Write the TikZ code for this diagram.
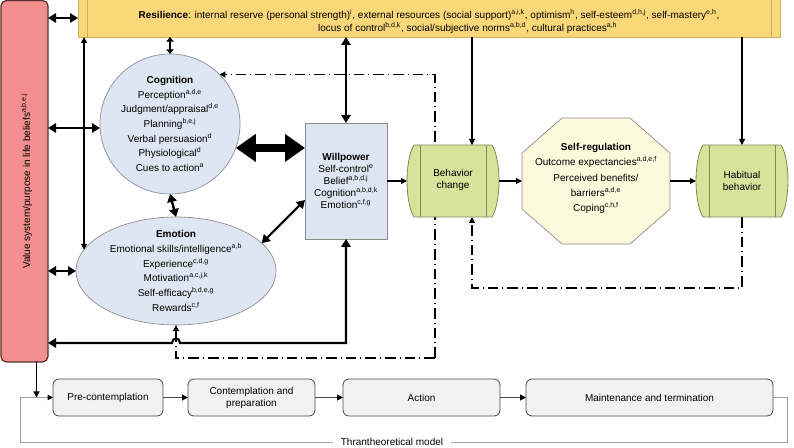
\documentclass[tikz,border=0pt]{standalone}
\usepackage{fontspec}
\setmainfont{Liberation Sans}
\usetikzlibrary{arrows.meta,calc,shapes.geometric}
\definecolor{valfill}{RGB}{243,143,143}
\definecolor{valdraw}{RGB}{90,45,45}
\definecolor{resfill}{RGB}{250,216,122}
\definecolor{resdraw}{RGB}{205,175,95}
\definecolor{blfill}{RGB}{221,230,242}
\definecolor{bldraw}{RGB}{140,140,140}
\definecolor{grfill}{RGB}{215,226,155}
\definecolor{grdraw}{RGB}{125,140,85}
\definecolor{srfill}{RGB}{253,249,221}
\definecolor{stfill}{RGB}{242,242,242}
\definecolor{stdraw}{RGB}{70,70,70}
\definecolor{loopgray}{RGB}{160,160,160}
\newcommand\sups[1]{\textsuperscript{#1}}
\newcommand\barrelpath[1]{%
  \path[draw=grdraw,fill=grfill,line width=0.6pt]
    ($(#1.north west)+(7,0)$) -- ($(#1.north east)+(-7,0)$)
    .. controls ($(#1.north east)+(2.3,15)$) and ($(#1.south east)+(2.3,-15)$) .. ($(#1.south east)+(-7,0)$)
    -- ($(#1.south west)+(7,0)$)
    .. controls ($(#1.south west)+(-2.3,-15)$) and ($(#1.north west)+(-2.3,15)$) .. cycle;
  \draw[grdraw,line width=0.6pt] ($(#1.north west)+(13,0)$) -- ($(#1.south west)+(13,0)$)
    ($(#1.north east)+(-13,0)$) -- ($(#1.south east)+(-13,0)$);}
\tikzset{
  smalltip/.tip={Triangle[length=4.5pt,width=4.5pt]},
  shorttip/.tip={Triangle[length=3.5pt,width=5.5pt]},
  midtip/.tip={Triangle[length=6pt,width=7pt]},
  bigtip/.tip={Triangle[length=15pt,width=20pt]},
  graytip/.tip={Triangle[length=4pt,width=4pt,color=black]},
}
\begin{document}
\begin{tikzpicture}[x=0.75pt,y=-0.75pt,
  font=\fontsize{7.5pt}{9pt}\selectfont,
  every node/.style={inner sep=0pt,outer sep=0pt},
  txt/.style={align=center},
  valbox/.style={draw=valdraw,fill=valfill,line width=0.9pt,rounded corners=4pt,minimum width=35.25pt,minimum height=271.1pt},
  resbox/.style={draw=resdraw,fill=resfill,line width=0.6pt,minimum width=526.5pt,minimum height=28.5pt},
  cogshape/.style={circle,draw=bldraw,fill=blfill,line width=0.5pt,minimum size=105pt},
  emoshape/.style={ellipse,draw=bldraw,fill=blfill,line width=0.5pt,minimum width=150pt,minimum height=81pt},
  wilshape/.style={rectangle,draw=bldraw,fill=blfill,line width=0.6pt,minimum width=61.5pt,minimum height=87pt},
  anchorbox/.style={rectangle,minimum width=69pt,minimum height=54pt},
  stage/.style={rectangle,rounded corners=4.5pt,draw=stdraw,fill=stfill,line width=0.6pt,minimum height=27.75pt,align=center},
  arrS/.style={line width=0.8pt,-smalltip},
  dblS/.style={line width=0.9pt,smalltip-smalltip},
  dblM/.style={line width=1.6pt,midtip-midtip},
  dblB/.style={line width=6pt,bigtip-bigtip},
  dashd/.style={line width=0.9pt,dash pattern=on 8pt off 3pt on 0.75pt off 3pt},
  stagearr/.style={draw=stdraw,line width=0.8pt,-{Triangle[length=4.5pt,width=4.5pt,color=black]}},
  loopline/.style={draw=loopgray,line width=0.6pt},
]
\useasboundingbox (0,0) rectangle (794,448);

% main nodes
\node[valbox] (val) at (24.5,181.25) {};
\node[rotate=90] (valt) at (26.5,181) {Value system/purpose in life beliefs\sups{a,b,e,j}};
\node[resbox] (res) at (429,18) {};
\draw[resdraw,line width=0.6pt] ($(res.north west)+(9,0)$) -- ($(res.south west)+(9,0)$)
  ($(res.north east)+(-9,0)$) -- ($(res.south east)+(-9,0)$);
\node[txt,font=\fontsize{7.5pt}{9.75pt}\selectfont] (rest) at (429,21.5)
  {\textbf{Resilience}: internal reserve (personal strength)\sups{i}, external resources (social support)\sups{a,i,k}, optimism\sups{h}, self-esteem\sups{d,h,j}, self-mastery\sups{e,h},\\
   \hspace*{58pt}locus of control\sups{b,d,k}, social/subjective norms\sups{a,b,d}, cultural practices\sups{a,h}};
\node[cogshape] (cog) at (170,124) {};
\node[txt,font=\fontsize{7.5pt}{11pt}\selectfont] (cogt) at (cog) {\textbf{Cognition}\\Perception\sups{a,d,e}\\Judgment/appraisal\sups{d,e}\\Planning\sups{b,e,j}\\Verbal persuasion\sups{d}\\Physiological\sups{d}\\Cues to action\sups{a}};
\node[emoshape] (emo) at (176,271) {};
\node[txt,font=\fontsize{7.5pt}{11pt}\selectfont] (emot) at (emo) {\textbf{Emotion}\\Emotional skills/intelligence\sups{a,b}\\Experience\sups{c,d,g}\\Motivation\sups{a,c,j,k}\\Self-efficacy\sups{b,d,e,g}\\Rewards\sups{c,f}};
\node[wilshape] (wil) at (346,181) {};
\node[txt,font=\fontsize{7.5pt}{9pt}\selectfont] (wilt) at (wil) {\textbf{Willpower}\\Self-control\sups{e}\\Belief\sups{a,b,d,j}\\Cognition\sups{a,b,d,k}\\Emotion\sups{c,f,g}};
\node[anchorbox] (bc) at (453,181) {};
\node[anchorbox] (hb) at (742,181) {};
\node[rectangle,minimum width=111pt,minimum height=94.5pt] (sr) at (596,181) {};

% stages
\node[stage,minimum width=82.5pt] (pc) at (108,397.5) {Pre-contemplation};
\node[stage,minimum width=95.25pt] (cp) at (251.5,397.5) {Contemplation and\\preparation};
\node[stage,minimum width=117.75pt] (act) at (421.5,397.5) {Action};
\node[stage,minimum width=185.25pt] (mt) at (649.5,397.5) {Maintenance and termination};

% dash-dot feedback lines
\coordinate (dcorner) at (435,358);
\coordinate (drow) at (0,288);
\coordinate (bcx) at ($(bc.south)+(19,0)$);
\coordinate (bctop) at ($(bc.north)+(19,0)$);
\draw[dashd,-smalltip] (dcorner) -- (dcorner |- cog.45) -- (cog.45);
\draw[dashd,-smalltip] (dcorner) -- (dcorner -| emo.south) -- (emo.south);
\draw[dashd,-smalltip] (hb.south) -- (hb.south |- drow) -- (bcx |- drow) -- (bcx);

% barrel shapes and octagon
\barrelpath{bc}
\barrelpath{hb}
\node[txt,font=\fontsize{7.5pt}{9pt}\selectfont] (bct) at (453,180) {Behavior\\change};
\node[txt,font=\fontsize{7.5pt}{9pt}\selectfont] (hbt) at (742,181) {Habitual\\behavior};
\path[draw=bldraw,fill=srfill,line width=0.5pt]
  ($(sr.north west)+(40,0)$) -- ($(sr.north east)+(-40,0)$) -- ($(sr.north east)+(0,35)$)
  -- ($(sr.south east)+(0,-35)$) -- ($(sr.south east)+(-40,0)$) -- ($(sr.south west)+(40,0)$)
  -- ($(sr.south west)+(0,-35)$) -- ($(sr.north west)+(0,35)$) -- cycle;
\node[txt,font=\fontsize{7.5pt}{11.4pt}\selectfont] (srt) at (596,178.5) {\textbf{Self-regulation}\\Outcome expectancies\sups{a,d,e,f}\\Perceived benefits/\\barriers\sups{a,d,e}\\Coping\sups{c,h,f}};

% arrows
\coordinate (cw) at ($(cog.west)+(0,4)$);
\coordinate (hop) at ($(emo.south)+(0,18)$);
\coordinate (vb) at ($(val.south)+(12,0)$);
\draw[dblM] (res.west -| val.east) -- (res.west);
\draw[dblM] (cw -| val.east) -- (cw);
\draw[dblM] (emo.west -| val.east) -- (emo.west);
\draw[dblS] (res.south -| emo.167) -- (emo.167);
\draw[line width=1.5pt,shorttip-shorttip] (res.south -| cog.north) -- (cog.north);
\draw[line width=1.8pt,midtip-midtip] (cog.south) -- (emo.north);
\draw[dblB] (cog.-20) -- (cog.-20 -| wil.west);
\draw[dblM] (emo.18) -- ($(wil.west)+(0,19)$);
\draw[line width=1.3pt,midtip-midtip] (res.south -| wil.north) -- (wil.north);
\draw[dblM] (wil.south) -- (wil.south |- hop) -- ($(hop)+(4,0)$)
  .. controls ($(hop)+(4,-6)$) and ($(hop)+(-4,-6)$) .. ($(hop)+(-4,0)$) -- (hop -| val.east);
\draw[arrS] (wil.east) -- (bc.west);
\draw[arrS] (bc.east) -- (sr.west);
\draw[arrS] (sr.east) -- (hb.west);
\draw[arrS] (res.south -| bctop) -- (bctop);
\draw[arrS] (res.south -| hb.north) -- (hb.north);
\draw[arrS] (vb) -- (vb |- pc.west);

% stage arrows
\draw[stagearr] (pc.east) -- (cp.west);
\draw[stagearr] (cp.east) -- (act.west);
\draw[stagearr] (act.east) -- (mt.west);

% transtheoretical loop
\coordinate (lr) at (787,442);
\coordinate (ll) at (20,442);
\node[inner xsep=6pt] (tm) at (392,442) {Thrantheoretical model};
\draw[loopline] (mt.east) -| (lr) -- (tm.east);
\draw[loopline,-graytip] (tm.west) -- (ll) |- (pc.west);
\end{tikzpicture}
\end{document}
